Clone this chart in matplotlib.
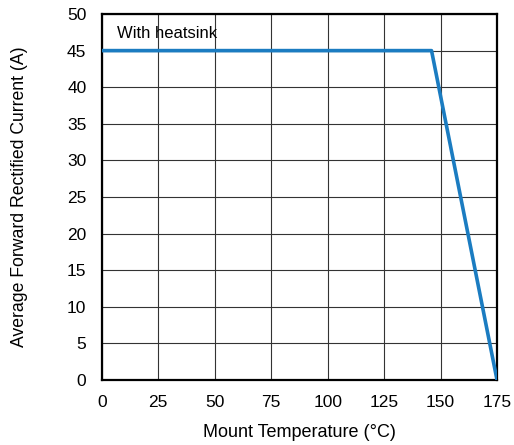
import matplotlib.pyplot as plt

plt.rcParams['font.family'] = ['Liberation Sans', 'DejaVu Sans']

# derating curve points
temp = [0, 146, 175]
current = [45, 45, 0]

x_ticks = [0, 25, 50, 75, 100, 125, 150, 175]
y_ticks = [0, 5, 10, 15, 20, 25, 30, 35, 40, 45, 50]

fig = plt.figure(figsize=(5.14, 4.45), dpi=100)
ax = fig.add_axes([0.198, 0.146, 0.769, 0.8225])

ax.plot(temp, current, color='#1b7cc1', linewidth=2.6, solid_capstyle='butt', zorder=3)

ax.set_xlim(0, 175)
ax.set_ylim(0, 50)
ax.set_xticks(x_ticks)
ax.set_yticks(y_ticks)
ax.tick_params(length=0, labelsize=12.5)
ax.tick_params(axis='x', pad=11)
ax.tick_params(axis='y', pad=11)
ax.grid(True, color='#333333', linewidth=0.8)
for s in ax.spines.values():
    s.set_linewidth(1.6)

ax.text(6.6, 47.4, 'With heatsink', fontsize=12, va='center', ha='left')
ax.set_xlabel('Mount Temperature (°C)', fontsize=13, labelpad=10)
ax.set_ylabel('Average Forward Rectified Current (A)', fontsize=12.7, labelpad=28)

fig.savefig('out.png', dpi=100)
